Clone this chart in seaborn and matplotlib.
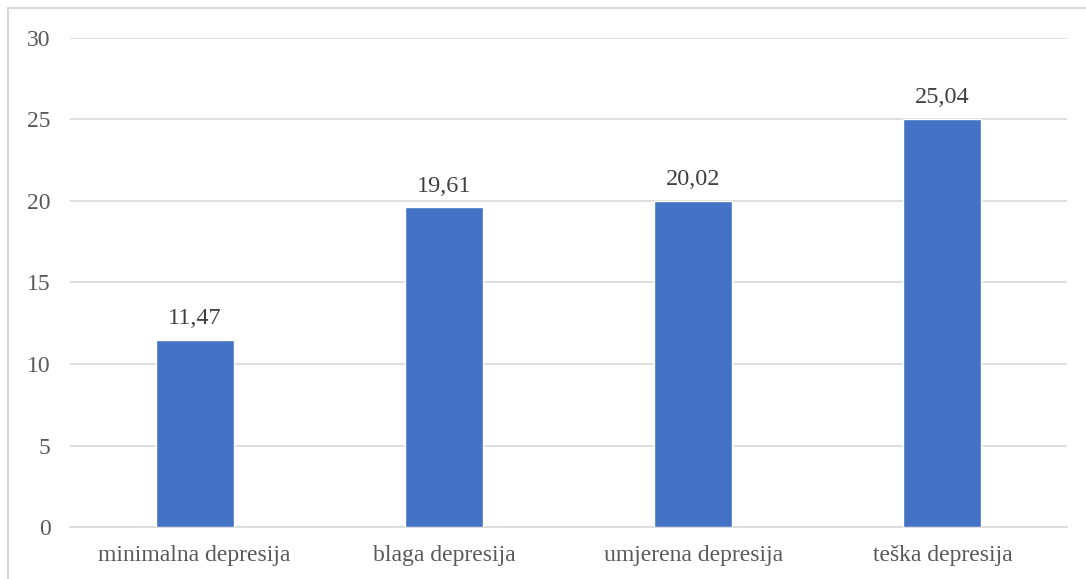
import pandas as pd
import seaborn as sns
import matplotlib.pyplot as plt
from matplotlib.lines import Line2D

# Podaci
kategorije = ["minimalna depresija", "blaga depresija", "umjerena depresija", "teška depresija"]
vrijednosti = [11.47, 19.61, 20.02, 25.04]
oznake = ["11,47", "19,61", "20,02", "25,04"]

df = pd.DataFrame({"kategorija": kategorije, "vrijednost": vrijednosti})

sns.set_style("white")
plt.rcParams['font.family'] = ['Liberation Serif', 'DejaVu Serif']

fig = plt.figure(figsize=(10.86, 5.79), dpi=100)
ax = fig.add_axes([0.0645, 0.0898, 0.918, 0.8446])

sns.barplot(data=df, x="kategorija", y="vrijednost", color="#4472C4",
            width=0.313, saturation=1, ax=ax, zorder=3)

for i, (v, t) in enumerate(zip(vrijednosti, oznake)):
    ax.text(i, v + 0.65, t, ha="center", va="bottom", fontsize=17.5, color="#404040")

ax.set_ylim(0, 30)
ax.set_xlim(-0.5, 3.5)
ax.set_yticks(range(0, 31, 5))
ax.yaxis.grid(True, color="#d9d9d9", linewidth=1.2, zorder=0)
ax.set_axisbelow(True)
for s in ["top", "right", "left"]:
    ax.spines[s].set_visible(False)
ax.spines["bottom"].set_color("#d9d9d9")
ax.spines["bottom"].set_linewidth(1.2)
ax.tick_params(axis="both", length=0, labelsize=17, labelcolor="#595959")
ax.tick_params(axis="y", pad=14)
ax.tick_params(axis="x", pad=13)
ax.set_xlabel("")
ax.set_ylabel("")

# okvir grafikona
fig.add_artist(Line2D([8 / 1086, 8 / 1086], [0, 1 - 8 / 579], transform=fig.transFigure,
                      color="#d9d9d9", linewidth=1.5))
fig.add_artist(Line2D([8 / 1086, 1], [1 - 8 / 579, 1 - 8 / 579], transform=fig.transFigure,
                      color="#d9d9d9", linewidth=1.5))

plt.savefig("out.png", dpi=100)
